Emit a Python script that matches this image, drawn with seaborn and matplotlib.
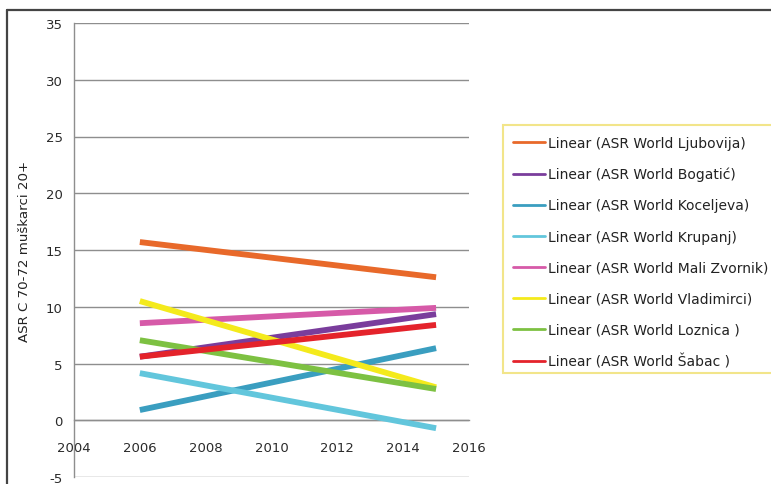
import matplotlib
matplotlib.use("Agg")
import matplotlib.pyplot as plt
from matplotlib.lines import Line2D
from matplotlib.patches import Rectangle
import pandas as pd
import seaborn as sns

# Trend-line endpoints (years and fitted ASR values)
years = [2006, 2015]
series_names = [
    "Linear (ASR World Ljubovija)",
    "Linear (ASR World Bogatić)",
    "Linear (ASR World Koceljeva)",
    "Linear (ASR World Krupanj)",
    "Linear (ASR World Mali Zvornik)",
    "Linear (ASR World Vladimirci)",
    "Linear (ASR World Loznica )",
    "Linear (ASR World Šabac )",
]
ljubovija = [15.7, 12.6]
bogatic = [5.6, 9.35]
koceljeva = [0.9, 6.35]
krupanj = [4.15, -0.7]
mali_zvornik = [8.55, 9.9]
vladimirci = [10.5, 2.9]
loznica = [7.05, 2.75]
sabac = [5.6, 8.4]
series_values = [ljubovija, bogatic, koceljeva, krupanj,
                 mali_zvornik, vladimirci, loznica, sabac]
colors = ["#E8692A", "#7A3D9C", "#3A9EC0", "#62C6DC",
          "#D65AA8", "#F4EA1C", "#7DC142", "#E4232B"]

x_ticks = [2004, 2006, 2008, 2010, 2012, 2014, 2016]
y_ticks = [-5, 0, 5, 10, 15, 20, 25, 30, 35]
y_label = "ASR C 70-72 muškarci 20+"

rows = []
for name, vals in zip(series_names, series_values):
    for yr, v in zip(years, vals):
        rows.append({"year": yr, "value": v, "series": name})
df = pd.DataFrame(rows)

sns.set_style("white")
plt.rcParams["font.family"] = ["DejaVu Sans"]
plt.rcParams["axes.unicode_minus"] = False

W, H = 771, 485
fig = plt.figure(figsize=(W / 100, H / 100), dpi=100)
fig.patch.set_facecolor("white")
ax = fig.add_axes([74 / W, 1 - 478 / H, (469 - 74) / W, (478 - 24) / H])

grid_c = "#8E8E8E"
for yv in y_ticks:
    ax.axhline(yv, color=grid_c, lw=1.0, zorder=0)

sns.lineplot(data=df, x="year", y="value", hue="series",
             hue_order=series_names, palette=colors,
             linewidth=4.2, legend=False, ax=ax, zorder=3,
             solid_capstyle="butt")

ax.set_xlim(2004, 2016)
ax.set_ylim(-5, 35)
ax.set_xticks(x_ticks)
ax.set_yticks(y_ticks)
ax.set_xlabel("")
ax.set_ylabel(y_label, fontsize=9.6, labelpad=11, color="#222222")

for s in ["top", "right"]:
    ax.spines[s].set_visible(False)
ax.spines["bottom"].set_position(("data", 0))
ax.spines["bottom"].set_color(grid_c)
ax.spines["left"].set_color(grid_c)
ax.spines["bottom"].set_linewidth(1.0)
ax.spines["left"].set_linewidth(1.0)
ax.tick_params(axis="x", direction="out", length=4, width=1, color=grid_c,
               pad=11, labelsize=9.5, labelcolor="#2a2a2a")
ax.tick_params(axis="y", direction="out", length=4, width=1, color=grid_c,
               pad=4, labelsize=9.5, labelcolor="#2a2a2a")
ax.set_facecolor("white")

# legend box running off the right edge
fig.add_artist(Rectangle((503 / W, 1 - 374 / H), (820 - 503) / W,
                         (374 - 126) / H, transform=fig.transFigure,
                         facecolor="white", edgecolor="#F2E58A", lw=1.5,
                         zorder=1))

handles = [Line2D([0], [0], color=c, lw=2) for c in colors]
leg = fig.legend(handles, series_names, loc="upper left",
                 bbox_to_anchor=(501 / W, 1 - 125 / H),
                 fontsize=10, frameon=False,
                 handlelength=2.35, handletextpad=0.2,
                 labelspacing=1.23, borderpad=0.85, borderaxespad=0)
leg.set_zorder(2)
for t in leg.get_texts():
    t.set_color("#222222")

# outer frame edges along top and left
fig.add_artist(Line2D([7 / W, 1], [1 - 11 / H, 1 - 11 / H],
                      transform=fig.transFigure, color="#444444", lw=1.6))
fig.add_artist(Line2D([7 / W, 7 / W], [0, 1 - 11 / H],
                      transform=fig.transFigure, color="#444444", lw=1.6))

fig.savefig("out.png", dpi=100)
